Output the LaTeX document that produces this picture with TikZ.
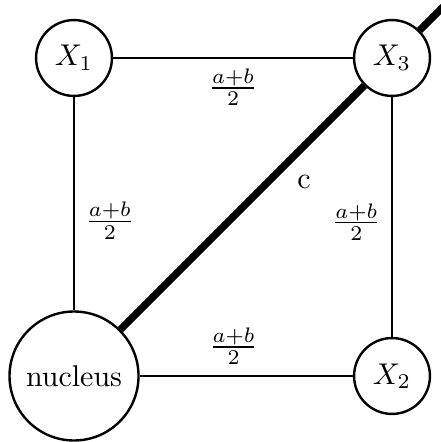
\documentclass[tikz,border=0pt]{standalone}
\usetikzlibrary{calc}
\begin{document}
\begin{tikzpicture}[x=1pt,y=1pt,
  vtx/.style={circle,draw,line width=0.8pt,fill=white,minimum size=25.3pt,inner sep=0pt},
  big/.style={circle,draw,line width=0.8pt,fill=white,minimum size=43pt,inner sep=0pt},
  link/.style={line width=0.8pt},
  heavy/.style={line width=2.4pt},
  lab/.style={inner sep=3.33pt}]
\useasboundingbox (0,0) rectangle (146.67,-147.33);
\node[vtx] (X1) at (24.67,-19.33) {$X_1$};
\node[vtx] (X3) at (130.67,-19.33) {$X_3$};
\node[big] (nuc) at (24.67,-125.33) {nucleus};
\node[vtx] (X2) at (130.67,-125.33) {$X_2$};
\coordinate (tail) at ($(X3)+(45:40pt)$);
\draw[link] (X1) -- node[lab,below,pos=0.5] {$\frac{a+b}{2}$} (X3);
\draw[link] (X1) -- node[lab,right,pos=0.58] {$\frac{a+b}{2}$} (nuc);
\draw[link] (X3) -- node[lab,left,pos=0.52] {$\frac{a+b}{2}$} (X2);
\draw[link] (nuc) -- node[lab,above,pos=0.44] {$\frac{a+b}{2}$} (X2);
\draw[heavy] (nuc) -- node[lab,below right,pos=0.68,inner sep=2.5pt] {c} (X3);
\draw[heavy] (X3) -- (tail);
\end{tikzpicture}
\end{document}
